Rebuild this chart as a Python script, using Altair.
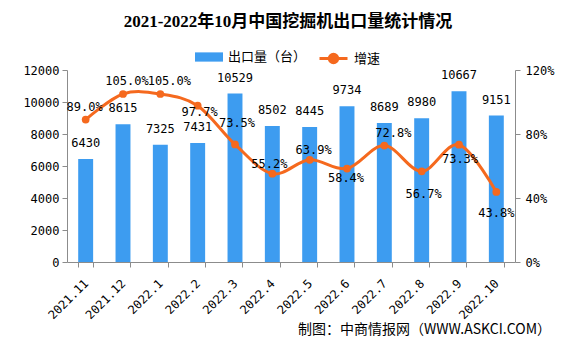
import altair as alt
import pandas as pd

months = ["2021.11", "2021.12", "2022.1", "2022.2", "2022.3", "2022.4",
          "2022.5", "2022.6", "2022.7", "2022.8", "2022.9", "2022.10"]
exports = [6430, 8615, 7325, 7431, 10529, 8502, 8445, 9734, 8689, 8980, 10667, 9151]
growth = [89.0, 105.0, 105.0, 97.7, 73.5, 55.2, 63.9, 58.4, 72.8, 56.7, 73.3, 43.8]

title_text = "2021-2022年10月中国挖掘机出口量统计情况"
bar_name = "出口量（台）"
line_name = "增速"
source_text = "制图：中商情报网（WWW.ASKCI.COM）"
left_ticks = [0, 2000, 4000, 6000, 8000, 10000, 12000]
right_ticks = [0, 40, 80, 120]

# label placement (dx, dy) for each growth label, in pixels
label_shift = {
    "2021.11": (-1, -13), "2021.12": (4, -13), "2022.1": (9, -13), "2022.2": (2, 6),
    "2022.3": (2, -21), "2022.4": (-3, -10), "2022.5": (4, -10), "2022.6": (-1, 9),
    "2022.7": (9, -13), "2022.8": (2, 23), "2022.9": (1, 14), "2022.10": (0, 21),
}

df = pd.DataFrame({"month": months, "exports": exports, "growth": growth})
df["s1"] = bar_name
df["s2"] = line_name
df["glabel"] = [f"{g:.1f}%" for g in growth]

BLUE = "#3D9CF0"
ORANGE = "#F5691E"
AXIS_GRAY = "#8C8C8C"
NUM_FONT = "DejaVu Sans Mono"
CJK_FONT = "Noto Sans CJK SC"

x_enc = alt.X(
    "month:N", sort=months,
    scale=alt.Scale(paddingInner=0.6, paddingOuter=0.3),
    axis=alt.Axis(title=None, labelAngle=-45, labelAlign="right", labelBaseline="middle",
                  labelPadding=14, labelFont=NUM_FONT, labelFontSize=12, labelColor="black",
                  tickBand="extent", tickSize=5, tickColor=AXIS_GRAY, domainColor=AXIS_GRAY,
                  grid=False),
)

yl_scale = alt.Scale(domain=[0, 12000])
yr_scale = alt.Scale(domain=[0, 120])

bars = alt.Chart(df).mark_bar().encode(
    x=x_enc,
    y=alt.Y("exports:Q", scale=yl_scale,
            axis=alt.Axis(title=None, values=left_ticks, format="d", labelFont=NUM_FONT,
                          labelFontSize=12, labelColor="black", tickSize=5, labelPadding=3,
                          tickColor=AXIS_GRAY, domainColor=AXIS_GRAY, grid=False)),
    fill=alt.Fill("s1:N", scale=alt.Scale(domain=[bar_name], range=[BLUE]),
                  legend=alt.Legend(orient="none", legendX=128, legendY=-27, title=None,
                                    symbolType="M-1,-0.33H1V0.33H-1Z", symbolSize=784,
                                    symbolStrokeWidth=0, labelFont=CJK_FONT, labelFontSize=13,
                                    labelColor="black", labelOffset=5)),
)

bar_text = alt.Chart(df).mark_text(dy=-16, baseline="middle", font=NUM_FONT, fontSize=12,
                                   color="black").encode(
    x=x_enc,
    y=alt.Y("exports:Q", scale=yl_scale, axis=None),
    text="exports:Q",
)

line = alt.Chart(df).mark_line(interpolate="cardinal", strokeWidth=3).encode(
    x=x_enc,
    y=alt.Y("growth:Q", scale=yr_scale,
            axis=alt.Axis(orient="right", title=None, values=right_ticks,
                          labelExpr="datum.value + '%'", labelFont=NUM_FONT,
                          labelFontSize=12, labelColor="black", tickSize=5, labelPadding=5,
                          tickColor=AXIS_GRAY, domainColor=AXIS_GRAY, grid=False)),
    stroke=alt.Stroke("s2:N", scale=alt.Scale(domain=[line_name], range=[ORANGE]),
                      legend=alt.Legend(orient="none", legendX=251, legendY=-27, title=None,
                                        symbolType="M-1,0H1M0.3,0A0.3,0.3,0,1,1,-0.3,0A0.3,0.3,0,1,1,0.3,0",
                                        symbolSize=784, symbolStrokeWidth=3,
                                        symbolFillColor=ORANGE, labelFont=CJK_FONT,
                                        labelFontSize=13, labelColor="black", labelOffset=5)),
)

pts = alt.Chart(df).mark_point(filled=True, size=60, color=ORANGE, opacity=1).encode(
    x=x_enc,
    y=alt.Y("growth:Q", scale=yr_scale, axis=None),
)

labels = []
for m, (ddx, ddy) in label_shift.items():
    labels.append(
        alt.Chart(df).transform_filter(alt.datum.month == m).mark_text(
            dx=ddx, dy=ddy, baseline="middle", font=NUM_FONT, fontSize=12, color="black"
        ).encode(
            x=x_enc,
            y=alt.Y("growth:Q", scale=yr_scale, axis=None),
            text="glabel:N",
        )
    )

source = alt.Chart(pd.DataFrame({"t": [source_text]})).mark_text(
    align="right", baseline="middle", font=CJK_FONT, fontSize=14, color="black"
).encode(text="t:N", x=alt.value(484), y=alt.value(260))

chart = alt.layer(bars, bar_text, line, pts, *labels, source).resolve_scale(
    y="independent"
).properties(
    width=448, height=192,
    padding={"left": 67, "top": 70, "right": 61, "bottom": 81},
    autosize=alt.AutoSizeParams(type="none"),
    background="white",
    title=alt.TitleParams(text=title_text, font="Liberation Serif, Noto Sans CJK SC",
                          fontSize=17, fontWeight="bold", color="black",
                          anchor="middle", offset=12, dx=-3),
).configure_view(stroke=None)

chart.save("out.html", embed_options={"renderer": "svg", "actions": False})
